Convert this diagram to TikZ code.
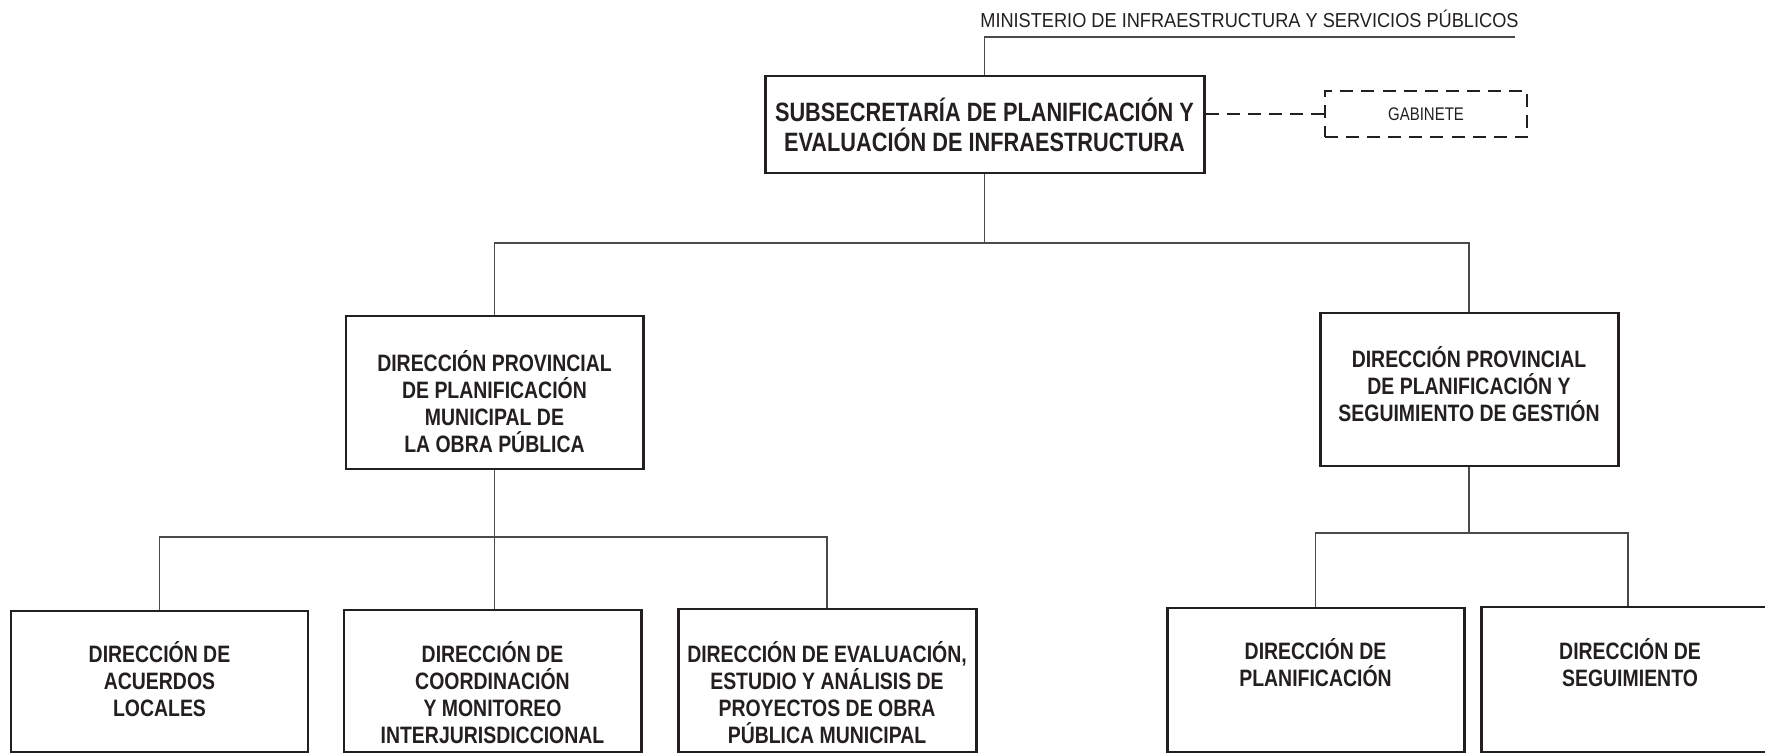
\documentclass[tikz,border=0pt]{standalone}
\usepackage{fontspec}
\setmainfont{Liberation Sans}
\newfontfamily\narrowsans[FakeStretch=0.82]{Liberation Sans}
\newfontfamily\ministryfont[FakeStretch=0.9]{Liberation Sans}
\definecolor{ink}{HTML}{231F20}
\definecolor{wire}{HTML}{4A4A4A}
\tikzset{
  unitbox/.style={draw=ink, line width=1.7pt, inner sep=0pt},
  boxsize/.style 2 args={minimum width=#1*0.02cm, minimum height=#2*0.02cm},
  headtext/.style={font=\narrowsans\bfseries\fontsize{15.1}{17.1}\selectfont, text=ink, align=center, inner sep=0pt},
  boxtext/.style={font=\narrowsans\bfseries\fontsize{13.5}{15.4}\selectfont, text=ink, align=center, inner sep=0pt},
  link/.style={draw=wire, line width=0.8pt},
  dashlink/.style={draw=ink, line width=1.4pt, dash pattern=on 7.4pt off 4.6pt},
}
\begin{document}
\begin{tikzpicture}[x=0.02cm,y=-0.02cm]
\useasboundingbox (0,0) rectangle (1765,753);
\clip (0,0) rectangle (1765,753);
% top level
\node[anchor=base west, inner sep=0pt, text=ink, font=\ministryfont\fontsize{11.5}{13}\selectfont] (ministerio) at (980,28) {MINISTERIO DE INFRAESTRUCTURA Y SERVICIOS PÚBLICOS};
\coordinate (mincorner) at (1515,37);
\node[unitbox, boxsize={439}{97}, headtext] (subsec) at (984.5,124.5) {SUBSECRETARÍA DE PLANIFICACIÓN Y\\EVALUACIÓN DE INFRAESTRUCTURA};
\node[draw=ink, line width=1.4pt, dash pattern=on 7.4pt off 4.6pt, boxsize={202}{46}, inner sep=0pt, text=ink, font=\narrowsans\fontsize{10.4}{12}\selectfont] (gabinete) at (1426,114) {GABINETE};
% provincial directions
\node[unitbox, boxsize={297}{153}] (provmun) at (494.5,392.5) {};
\node[boxtext] (provmuntxt) at (494.5,402) {DIRECCIÓN PROVINCIAL\\DE PLANIFICACIÓN\\MUNICIPAL DE\\LA OBRA PÚBLICA};
\node[unitbox, boxsize={298}{153}] (provseg) at (1469,389.5) {};
\node[boxtext] (provsegtxt) at (1469,384) {DIRECCIÓN PROVINCIAL\\DE PLANIFICACIÓN Y\\SEGUIMIENTO DE GESTIÓN};
% directions
\node[unitbox, boxsize={297}{141}] (acuerdos) at (159.5,681.5) {};
\node[boxtext] (acuerdostxt) at (159.5,679) {DIRECCIÓN DE\\ACUERDOS\\LOCALES};
\node[unitbox, boxsize={297}{142}] (coordmon) at (492.5,681) {};
\node[boxtext] (coordmontxt) at (492.5,693) {DIRECCIÓN DE\\COORDINACIÓN\\Y MONITOREO\\INTERJURISDICCIONAL};
\node[unitbox, boxsize={298}{143}] (evaluacion) at (827,680.5) {};
\node[boxtext] (evaluaciontxt) at (827,692.5) {DIRECCIÓN DE EVALUACIÓN,\\ESTUDIO Y ANÁLISIS DE\\PROYECTOS DE OBRA\\PÚBLICA MUNICIPAL};
\node[unitbox, boxsize={297}{144}] (planif) at (1315.5,680) {};
\node[boxtext] (planiftxt) at (1315.5,662.5) {DIRECCIÓN DE\\PLANIFICACIÓN};
\node[unitbox, boxsize={294}{145}] (seguim) at (1628,679.5) {};
\node[boxtext] (seguimtxt) at (1630,662.5) {DIRECCIÓN DE\\SEGUIMIENTO};
% connectors
\coordinate (busmain) at (984.5,243);
\coordinate (busleft) at (494,537);
\coordinate (busright) at (1468,533);
\draw[link] (subsec.north) |- (mincorner);
\draw[dashlink] (subsec.east |- gabinete.west) -- (gabinete.west);
\draw[link] (subsec.south) -- (busmain);
\draw[link] (provmun.north) -- (provmun.north |- busmain) -- (provseg.north |- busmain) -- (provseg.north);
\draw[link] (provmun.south) -- (provmun.south |- coordmon.north);
\draw[link] (acuerdos.north) -- (acuerdos.north |- busleft) -- (evaluacion.north |- busleft) -- (evaluacion.north);
\draw[link] (provseg.south) -- (provseg.south |- busright);
\draw[link] (planif.north) -- (planif.north |- busright) -- (seguim.north |- busright) -- (seguim.north);
\end{tikzpicture}
\end{document}
